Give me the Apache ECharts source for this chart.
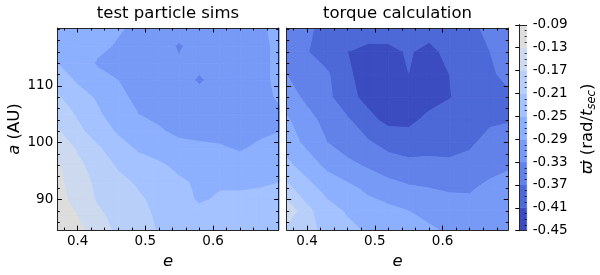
<!DOCTYPE html>
<html>
<head>
<meta charset="utf-8">
<script src="https://cdn.jsdelivr.net/npm/echarts@6/dist/echarts.min.js"></script>
<style>html,body{margin:0;padding:0;background:#fff}#c{width:600px;height:275px}</style>
</head>
<body>
<div id="c"></div>
<script>
// ---------------- data ----------------
const levels = [-0.45, -0.41, -0.37, -0.33, -0.29, -0.25, -0.21, -0.17, -0.13, -0.09];
const bandColors = ['#3b4cc0', '#4d68d7', '#6282ea', '#779af7', '#8db0fe', '#a3c2ff', '#b8d0f9', '#ccd9ee', '#dddddd'];

const eTicksMajor = [0.4, 0.5, 0.6];
const eTicksMinor = [0.38, 0.42, 0.44, 0.46, 0.48, 0.52, 0.54, 0.56, 0.58, 0.62, 0.64, 0.66, 0.68];
const aTicksMajor = [90, 100, 110];
const aTicksMinor = [86, 88, 92, 94, 96, 98, 102, 104, 106, 108, 112, 114, 116, 118, 120];
const cbarMinor = [-0.44, -0.43, -0.42, -0.40, -0.39, -0.38, -0.36, -0.35, -0.34, -0.32, -0.31, -0.30,
  -0.28, -0.27, -0.26, -0.24, -0.23, -0.22, -0.20, -0.19, -0.18, -0.16, -0.15, -0.14, -0.12, -0.11, -0.10];

// test particle sims grid (rows: a from top to bottom, cols: e)
const simE = [0.37, 0.40, 0.43, 0.46, 0.49, 0.52, 0.55, 0.58, 0.61, 0.64, 0.67, 0.70];
const simA = [120.2, 117, 114, 111, 108, 105, 102, 99, 96, 93, 90, 87, 84.6];
const simV = [
  [-0.292, -0.27, -0.27, -0.285, -0.30, -0.30, -0.31, -0.31, -0.31, -0.30, -0.295, -0.28],
  [-0.265, -0.27, -0.28, -0.295, -0.31, -0.31, -0.335, -0.31, -0.31, -0.31, -0.30, -0.28],
  [-0.25, -0.265, -0.295, -0.30, -0.31, -0.31, -0.325, -0.32, -0.315, -0.31, -0.30, -0.28],
  [-0.23, -0.255, -0.275, -0.29, -0.31, -0.315, -0.315, -0.335, -0.315, -0.31, -0.30, -0.28],
  [-0.205, -0.235, -0.255, -0.28, -0.30, -0.31, -0.315, -0.315, -0.315, -0.31, -0.30, -0.285],
  [-0.185, -0.215, -0.245, -0.27, -0.29, -0.30, -0.31, -0.315, -0.315, -0.31, -0.305, -0.295],
  [-0.165, -0.20, -0.23, -0.255, -0.275, -0.285, -0.30, -0.305, -0.305, -0.30, -0.30, -0.29],
  [-0.14, -0.175, -0.205, -0.235, -0.255, -0.265, -0.275, -0.28, -0.285, -0.295, -0.28, -0.275],
  [-0.125, -0.16, -0.19, -0.215, -0.235, -0.245, -0.258, -0.265, -0.27, -0.27, -0.265, -0.26],
  [-0.12, -0.15, -0.18, -0.20, -0.215, -0.235, -0.245, -0.255, -0.255, -0.255, -0.255, -0.25],
  [-0.115, -0.145, -0.175, -0.19, -0.205, -0.22, -0.235, -0.255, -0.245, -0.245, -0.24, -0.24],
  [-0.11, -0.13, -0.16, -0.185, -0.20, -0.215, -0.225, -0.235, -0.235, -0.235, -0.235, -0.23],
  [-0.10, -0.12, -0.15, -0.18, -0.20, -0.212, -0.22, -0.225, -0.23, -0.23, -0.23, -0.225]
];

// torque calculation grid
const torE = [0.37, 0.40, 0.43, 0.46, 0.49, 0.52, 0.55, 0.58, 0.61, 0.64, 0.67, 0.70];
const torA = [120.2, 116, 112, 108, 104, 100, 96, 92, 88, 84.6];
const torV = [
  [-0.35, -0.365, -0.38, -0.39, -0.395, -0.395, -0.398, -0.395, -0.39, -0.38, -0.36, -0.35],
  [-0.34, -0.368, -0.39, -0.41, -0.418, -0.418, -0.407, -0.42, -0.40, -0.385, -0.37, -0.355],
  [-0.33, -0.355, -0.365, -0.405, -0.425, -0.43, -0.4102, -0.43, -0.41, -0.39, -0.375, -0.36],
  [-0.31, -0.34, -0.36, -0.40, -0.42, -0.435, -0.43, -0.425, -0.412, -0.395, -0.38, -0.375],
  [-0.285, -0.315, -0.345, -0.365, -0.40, -0.42, -0.42, -0.40, -0.39, -0.38, -0.375, -0.372],
  [-0.27, -0.30, -0.33, -0.35, -0.365, -0.385, -0.39, -0.385, -0.38, -0.375, -0.36, -0.355],
  [-0.24, -0.27, -0.30, -0.32, -0.335, -0.35, -0.36, -0.36, -0.365, -0.36, -0.345, -0.335],
  [-0.20, -0.235, -0.265, -0.28, -0.30, -0.315, -0.325, -0.33, -0.335, -0.335, -0.32, -0.31],
  [-0.14, -0.20, -0.235, -0.255, -0.27, -0.28, -0.29, -0.30, -0.31, -0.315, -0.31, -0.30],
  [-0.18, -0.20, -0.22, -0.24, -0.255, -0.265, -0.275, -0.285, -0.295, -0.30, -0.30, -0.295]
];

const E_MIN = 0.37, E_MAX = 0.697, A_MIN = 84.6, A_MAX = 120.2;

// ---------------- drawing helpers ----------------
function clipPoly(poly, thr, keepAbove) {
  const out = [];
  for (let k = 0; k < poly.length; k++) {
    const P = poly[k], Q = poly[(k + 1) % poly.length];
    const pin = keepAbove ? P[2] >= thr : P[2] <= thr;
    const qin = keepAbove ? Q[2] >= thr : Q[2] <= thr;
    if (pin) out.push(P);
    if (pin !== qin) {
      const t = (thr - P[2]) / (Q[2] - P[2]);
      out.push([P[0] + t * (Q[0] - P[0]), P[1] + t * (Q[1] - P[1]), thr]);
    }
  }
  return out;
}
function cells(E, A) {
  const d = [];
  for (let i = 0; i < E.length - 1; i++)
    for (let j = 0; j < A.length - 1; j++)
      d.push([(E[i] + E[i + 1]) / 2, (A[j] + A[j + 1]) / 2, i, j]);
  return d;
}
function makeRender(E, A, V) {
  return function (params, api) {
    const i = api.value(2), j = api.value(3);
    const sq = [[E[i], A[j], V[j][i]], [E[i + 1], A[j], V[j][i + 1]],
                [E[i + 1], A[j + 1], V[j + 1][i + 1]], [E[i], A[j + 1], V[j + 1][i]]];
    const children = [];
    for (let b = 0; b < bandColors.length; b++) {
      let p = clipPoly(sq, levels[b], true);
      if (p.length < 3) continue;
      p = clipPoly(p, levels[b + 1], false);
      if (p.length < 3) continue;
      children.push({
        type: 'polygon',
        shape: { points: p.map(q => api.coord([q[0], q[1]])) },
        style: { fill: bandColors[b], stroke: bandColors[b], lineWidth: 0.8 }
      });
    }
    return { type: 'group', children };
  };
}

const FONT = 'DejaVu Sans';
const TICK = '#000';
const frame = { show: true, lineStyle: { color: '#262626', width: 1 } };
const noLine = { show: false };

function xAx(g, pos, major, opts) {
  return Object.assign({
    gridIndex: g, type: 'value', min: E_MIN, max: E_MAX, position: pos, z: 5,
    splitLine: { show: false },
    axisLine: major ? frame : noLine,
    axisTick: { inside: true, length: major ? 4.5 : 2.5, customValues: major ? eTicksMajor : eTicksMinor,
                lineStyle: { color: TICK, width: 1 } },
    axisLabel: { show: false }
  }, opts || {});
}
function yAx(g, pos, major, opts) {
  return Object.assign({
    gridIndex: g, type: 'value', min: A_MIN, max: A_MAX, position: pos, z: 5,
    splitLine: { show: false },
    axisLine: major ? frame : noLine,
    axisTick: { inside: true, length: major ? 4.5 : 2.5, customValues: major ? aTicksMajor : aTicksMinor,
                lineStyle: { color: TICK, width: 1 } },
    axisLabel: { show: false }
  }, opts || {});
}
const tickLabelX = { show: true, customValues: eTicksMajor, formatter: v => v.toFixed(1), margin: 4,
  fontSize: 13.5, color: '#000', fontFamily: FONT };
const eName = { name: 'e', nameLocation: 'middle', nameGap: 22,
  nameTextStyle: { fontSize: 16.5, fontStyle: 'italic', color: '#000', fontFamily: FONT } };
function titleName(t) {
  return { name: t, nameLocation: 'middle', nameGap: 6,
    nameTextStyle: { fontSize: 16.5, color: '#000', fontFamily: FONT, verticalAlign: 'bottom' } };
}

const option = {
  animation: false,
  backgroundColor: '#fff',
  grid: [
    { left: 57.3, top: 24.3, width: 221.4, height: 206 },
    { left: 286.7, top: 24.3, width: 221.6, height: 206 },
    { left: 519.3, top: 24.8, width: 7.4, height: 205.9 }
  ],
  xAxis: [
    xAx(0, 'bottom', true, Object.assign({ axisLabel: tickLabelX }, eName)),
    xAx(0, 'bottom', false),
    xAx(0, 'top', true, titleName('test particle sims')),
    xAx(0, 'top', false),
    xAx(1, 'bottom', true, Object.assign({ axisLabel: tickLabelX }, eName)),
    xAx(1, 'bottom', false),
    xAx(1, 'top', true, titleName('torque calculation')),
    xAx(1, 'top', false),
    { gridIndex: 2, type: 'value', min: 0, max: 1, position: 'bottom', z: 5, axisLine: frame,
      axisTick: { show: false }, axisLabel: { show: false }, splitLine: { show: false } },
    { gridIndex: 2, type: 'value', min: 0, max: 1, position: 'top', z: 5, axisLine: frame,
      axisTick: { show: false }, axisLabel: { show: false }, splitLine: { show: false } }
  ],
  yAxis: [
    yAx(0, 'left', true, {
      axisLabel: { show: true, customValues: aTicksMajor, margin: 4, fontSize: 13.5, color: '#000', fontFamily: FONT },
      name: '{i|a} (AU)', nameLocation: 'middle', nameRotate: 90, nameGap: 34,
      nameTextStyle: { fontSize: 16.5, color: '#000', fontFamily: FONT,
        rich: { i: { fontStyle: 'italic', fontSize: 16.5, fontFamily: FONT, color: '#000' } } }
    }),
    yAx(0, 'left', false),
    yAx(0, 'right', true),
    yAx(0, 'right', false),
    yAx(1, 'left', true),
    yAx(1, 'left', false),
    yAx(1, 'right', true),
    yAx(1, 'right', false),
    { gridIndex: 2, type: 'value', min: -0.45, max: -0.09, position: 'left', z: 5, axisLine: frame,
      axisTick: { show: false }, axisLabel: { show: false }, splitLine: { show: false } },
    { gridIndex: 2, type: 'value', min: -0.45, max: -0.09, position: 'right', z: 5, axisLine: frame,
      splitLine: { show: false },
      axisTick: { inside: true, length: 4, customValues: levels, lineStyle: { color: TICK, width: 1 } },
      axisLabel: { show: true, customValues: levels, formatter: v => v.toFixed(2), margin: 6,
        fontSize: 13.5, color: '#000', fontFamily: FONT } },
    { gridIndex: 2, type: 'value', min: -0.45, max: -0.09, position: 'right', z: 5, axisLine: noLine,
      splitLine: { show: false },
      axisTick: { inside: true, length: 2, customValues: cbarMinor, lineStyle: { color: TICK, width: 0.8 } },
      axisLabel: { show: false } }
  ],
  series: [
    { type: 'custom', name: 'test particle sims', xAxisIndex: 0, yAxisIndex: 0, clip: true, silent: true, z: 2,
      encode: { x: 0, y: 1 }, data: cells(simE, simA), renderItem: makeRender(simE, simA, simV) },
    { type: 'custom', name: 'torque calculation', xAxisIndex: 4, yAxisIndex: 4, clip: true, silent: true, z: 2,
      encode: { x: 0, y: 1 }, data: cells(torE, torA), renderItem: makeRender(torE, torA, torV) },
    { type: 'custom', name: 'colorbar', xAxisIndex: 8, yAxisIndex: 8, clip: true, silent: true, z: 2,
      encode: { x: 0, y: 1 },
      data: bandColors.map((c, b) => [0.5, (levels[b] + levels[b + 1]) / 2, b]),
      renderItem: function (params, api) {
        const b = api.value(2);
        const p0 = api.coord([0, levels[b]]), p1 = api.coord([1, levels[b + 1]]);
        return { type: 'rect', shape: { x: p0[0], y: p1[1], width: p1[0] - p0[0], height: p0[1] - p1[1] },
          style: { fill: bandColors[b], stroke: bandColors[b], lineWidth: 0.5 } };
      } }
  ],
  graphic: [
    { type: 'text', x: 588, y: 129, rotation: Math.PI / 2, silent: true,
      style: { text: '{v|ϖ̇} (rad/{t|t}{s|sec})', fontSize: 16.5, fontFamily: FONT, fill: '#000',
        align: 'center', verticalAlign: 'middle', lineHeight: 20,
        rich: {
          v: { fontStyle: 'italic', fontSize: 16.5, fontFamily: FONT, lineHeight: 20 },
          t: { fontStyle: 'italic', fontSize: 16.5, fontFamily: FONT, lineHeight: 20 },
          s: { fontStyle: 'italic', fontSize: 11.5, fontFamily: FONT, lineHeight: 12, verticalAlign: 'bottom' }
        } } }
  ]
};
const chart = echarts.init(document.getElementById('c'), null, { renderer: 'canvas' });
chart.setOption(option);
</script>
</body>
</html>
